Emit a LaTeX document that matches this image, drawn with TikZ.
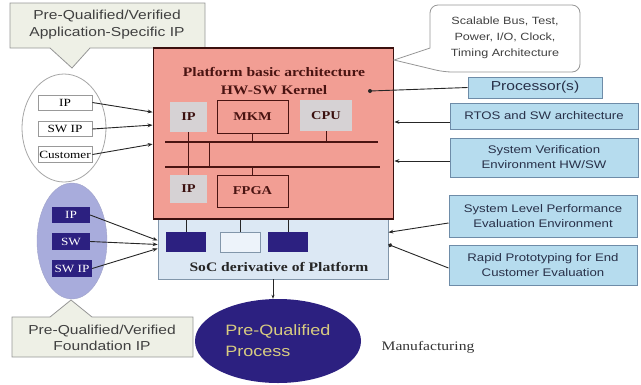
\documentclass[tikz,border=0pt]{standalone}
\usepackage{fontspec}
\setmainfont{Liberation Serif}[FakeStretch=1.2]
\setsansfont{Liberation Sans}[FakeStretch=1.2]
\usetikzlibrary{shapes.geometric,arrows.meta,positioning}

\definecolor{platpink}{RGB}{242,158,148}
\definecolor{platedge}{RGB}{74,20,18}
\definecolor{ipgray}{RGB}{214,210,212}
\definecolor{socblue}{RGB}{220,232,244}
\definecolor{socedge}{RGB}{130,150,170}
\definecolor{navy}{RGB}{44,32,128}
\definecolor{lavender}{RGB}{168,172,220}
\definecolor{sideblue}{RGB}{182,220,238}
\definecolor{sideedge}{RGB}{110,140,168}
\definecolor{sidetext}{RGB}{40,48,72}
\definecolor{callfill}{RGB}{238,240,230}
\definecolor{calledge}{RGB}{150,150,150}
\definecolor{khaki}{RGB}{216,204,128}

\tikzset{
	inbox/.style={fill=ipgray, inner sep=0pt, text=platedge!80!black,
		font=\fontsize{12}{14}\selectfont\bfseries},
	hwbox/.style={fill=platpink, draw=platedge, line width=0.8pt, inner sep=0pt,
		text=platedge, font=\fontsize{12}{14}\selectfont\bfseries},
	bus/.style={platedge, line width=2.8pt},
	tap/.style={platedge, line width=0.8pt},
	whitebox/.style={fill=white, draw=gray!80, line width=0.8pt, inner sep=0pt,
		minimum width=54pt, font=\fontsize{11}{13}\selectfont},
	navybox/.style={fill=navy, text=white, inner sep=0pt,
		font=\fontsize{11}{13}\selectfont},
	sidebox/.style={fill=sideblue, draw=sideedge, line width=1pt, text=sidetext,
		align=center, inner sep=1pt, minimum width=188pt,
		font=\sffamily\fontsize{11}{15}\selectfont},
	callout/.style={fill=callfill, draw=calledge, line width=0.8pt},
	calltext/.style={align=center, text=black!75},
	link/.style={black!85, line width=0.9pt}
}

\begin{document}
\begin{tikzpicture}[x=1pt, y=-1pt]
\useasboundingbox (0,0) rectangle (641,384);

% application specific IP
\draw[callout] (10,3) -- (205,3) -- (205,48) -- (90,48) -- (72,68) -- (50,48)
	-- (10,48) -- cycle;
\node[calltext, font=\sffamily\fontsize{13}{17}\selectfont] (appip) at (107,25)
	{Pre-Qualified/Verified\\Application-Specific IP};
\node[ellipse, draw=gray!70, fill=white, line width=0.8pt, minimum width=84pt,
	minimum height=108pt] (appell) at (64,128) {};
\node[whitebox, minimum height=15pt] (ipw) at (65,102.5) {IP};
\node[whitebox, minimum height=15pt] (swipw) at (65,129) {SW IP};
\node[whitebox, minimum height=16pt] (cust) at (65,154.5) {Customer};

% foundation IP
\node[ellipse, fill=lavender, draw=lavender!80!gray, minimum width=70pt,
	minimum height=116pt] (fndell) at (72,241) {};
\node[navybox, minimum width=38pt, minimum height=16pt] (fip) at (71,215) {IP};
\node[navybox, minimum width=38pt, minimum height=17pt] (fsw) at (71,241.5) {SW};
\node[navybox, minimum width=40pt, minimum height=17pt] (fswip) at (72,268.5) {SW IP};
\draw[callout] (12,317) -- (50,317) -- (71,300) -- (92,317) -- (193,317)
	-- (193,357) -- (12,357) -- cycle;
\node[calltext, font=\sffamily\fontsize{13}{16}\selectfont] (fndip) at (102,338)
	{Pre-Qualified/Verified\\Foundation IP};

% platform and derivative
\node[fill=socblue, draw=socedge, line width=0.8pt, minimum width=230pt,
	minimum height=65pt] (soc) at (273,246.5) {};
\node[font=\fontsize{13}{15}\selectfont\bfseries, text=black!85] (soclab)
	at (279,267) {SoC derivative of Platform};
\node[fill=platpink, draw=platedge!80!black, line width=1.8pt, minimum width=240pt,
	minimum height=171pt] (plat) at (273.5,133.5) {};
\node[align=center, text=platedge, font=\fontsize{13}{18}\selectfont\bfseries]
	(platlab) at (274,81) {Platform basic architecture\\HW-SW Kernel};

\begin{scope}
\node[inbox, minimum width=37pt, minimum height=30pt] (ipa) at (188.5,117) {IP};
\node[hwbox, minimum width=71pt, minimum height=33pt] (mkm) at (252.5,116.5) {MKM};
\node[inbox, minimum width=52pt, minimum height=31pt] (cpu) at (326,115.5) {CPU};
\node[inbox, minimum width=37pt, minimum height=28pt] (ipb) at (188.5,189) {IP};
\node[hwbox, minimum width=71pt, minimum height=32pt] (fpga) at (252.5,191) {FPGA};
\coordinate (b1w) at (165,142);
\coordinate (b1e) at (378,142);
\coordinate (b2w) at (165,167);
\coordinate (b2e) at (380,167);
\draw[bus] (b1w) -- (b1e);
\draw[bus] (b2w) -- (b2e);
\draw[tap] (ipa.south) -- (ipb.north);
\draw[tap] ([xshift=44pt]b1w) -- ([xshift=44pt]b2w);
\draw[tap] (mkm.south) -- (mkm.south |- b1w);
\draw[tap] (cpu.south) -- (cpu.south |- b1w);
\draw[tap] (fpga.north) -- (fpga.north |- b2w);
\end{scope}

\node[navybox, minimum width=40pt, minimum height=20pt] (sa) at (186,242) {};
\node[fill=socblue!50!white, draw=socedge, inner sep=0pt, minimum width=40pt,
	minimum height=20pt] (sb) at (240,242) {};
\node[navybox, minimum width=40pt, minimum height=20pt] (sc) at (288,242) {};
\foreach \b in {sa,sb,sc}
	\draw[link] (\b.north) -- (\b.north |- plat.south);

% process
\node[ellipse, fill=navy, minimum width=166pt, minimum height=84pt, inner sep=0pt,
	align=left, text=khaki, font=\sffamily\fontsize{15}{21}\selectfont] (prq)
	at (278,341) {Pre-Qualified\\Process};
\draw[link, -{Stealth[length=4pt]}] (soc.south) -- (soc.south |- prq.north);
\node[font=\fontsize{13}{15}\selectfont, text=black!80] (mfg) at (428,347)
	{Manufacturing};

% right hand side
\draw[fill=white, draw=calledge, line width=0.8pt] (394,60) -- (430,48)
	[rounded corners=8pt] -- (430,5) -- (580,5) -- (580,72) -- (444,72)
	[sharp corners] -- cycle;
\node[calltext, font=\sffamily\fontsize{10.5}{16}\selectfont] (bustxt) at (505,38)
	{Scalable Bus, Test,\\Power, I/O, Clock,\\Timing Architecture};
\node[sidebox, minimum width=134pt, minimum height=21pt,
	font=\sffamily\fontsize{13}{15}\selectfont] (proc) at (535,87.5) {Processor(s)};
\node[sidebox, minimum height=26pt] (rtos) at (544,116) {RTOS and SW architecture};
\node[sidebox, minimum height=39pt] (sysver) at (544,157.5)
	{System Verification\\Environment HW/SW};
\node[sidebox, minimum height=42pt] (perf) at (543,216)
	{System Level Performance\\Evaluation Environment};
\node[sidebox, minimum height=40pt] (rapid) at (543,265)
	{Rapid Prototyping for End\\Customer Evaluation};

\coordinate (pdot) at (370,91);
\fill[black!85] (pdot) circle (2);
\draw[link] (pdot) -- (proc.west);
\draw[link, -{Stealth[length=5pt]}] ([yshift=-6pt]rtos.west)
	-- ([yshift=-6pt]rtos.west -| plat.east);
\draw[link, -{Stealth[length=5pt]}] ([yshift=-3.5pt]sysver.west)
	-- ([yshift=-3.5pt]sysver.west -| plat.east);
\draw[link, -{Stealth[length=5pt]}] ([yshift=-7pt]perf.west) -- (soc.7);
\draw[link, -{Circle[length=4pt]}] ([yshift=-3pt]rapid.west) -- (soc.1);

% into the platform
\draw[link, -{Stealth[length=5pt]}] (ipw.east) -- (plat.170);
\draw[link, -{Stealth[length=5pt]}] (swipw.east) -- (plat.176);
\draw[link, -{Stealth[length=5pt]}] (cust.east) -- (plat.185);
\draw[link, -{Stealth[length=5pt]}] (fip.east) -- (soc.177);
\draw[link, -{Stealth[length=5pt]}] (fsw.east) -- (soc.179);
\draw[link, -{Stealth[length=5pt]}] (fswip.east) -- (soc.181);
\end{tikzpicture}
\end{document}
